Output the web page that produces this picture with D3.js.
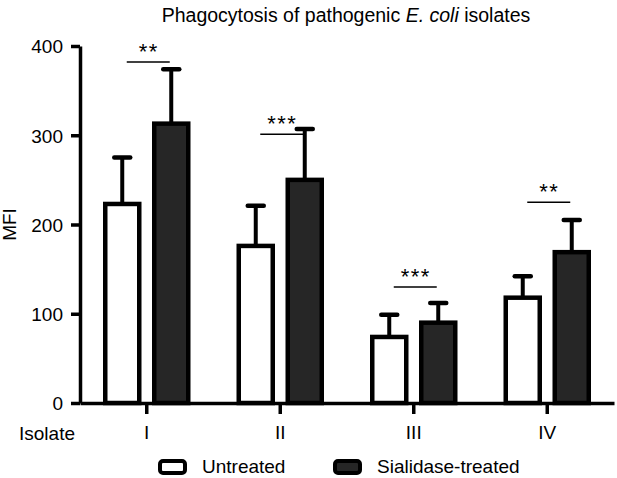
<!DOCTYPE html>
<html>
<head>
<meta charset="utf-8">
<script src="https://cdn.jsdelivr.net/npm/d3@7"></script>
<style>
  body { margin: 0; background: #fff; }
  svg { font-family: "Liberation Sans", Arial, Helvetica, sans-serif; }
</style>
</head>
<body>
<svg id="chart" width="617" height="478"></svg>
<script>
// values
var isolates = ["I", "II", "III", "IV"];
var groups = ["Untreated", "Sialidase-treated"];
var untreated = [223, 176, 74, 118];
var untreatedErr = [52, 45, 25, 24];
var sialidase = [313, 250, 90, 169];
var sialidaseErr = [61, 57, 22, 36];
var sigLabels = ["**", "***", "***", "**"];
var sigLevel = [382, 301, 130, 225]; // height of the comparison bar
var yTicks = [0, 100, 200, 300, 400];

var svg = d3.select("#chart");

var x = d3.scaleBand().domain(isolates).range([80, 614]).padding(0);
var y = d3.scaleLinear().domain([0, 400]).range([403, 46]);

var barW = 34;   // inner width, stroke adds on top
var offset = 24.5; // distance of each bar's centre from the category centre
var fills = ["#ffffff", "#262626"];

var rows = isolates.map(function(d, i){
    return [
        {iso: d, g: 0, v: untreated[i], e: untreatedErr[i]},
        {iso: d, g: 1, v: sialidase[i], e: sialidaseErr[i]}
    ];
});
var bars = d3.merge(rows);

function cx(d){
    return x(d.iso) + x.bandwidth()/2 + (d.g === 0 ? -offset : offset);
}

// error bars (drawn under the bars so the stem starts at the top edge)
svg.append("g").selectAll("line")
    .data(bars)
    .enter()
    .append("line")
        .attr("x1", cx).attr("x2", cx)
        .attr("y1", function(d){ return y(d.v); })
        .attr("y2", function(d){ return y(d.v + d.e); })
        .attr("stroke", "#000")
        .attr("stroke-width", 4);

svg.append("g").selectAll("line")
    .data(bars)
    .enter()
    .append("line")
        .attr("x1", function(d){ return cx(d) - 8; })
        .attr("x2", function(d){ return cx(d) + 8; })
        .attr("y1", function(d){ return y(d.v + d.e); })
        .attr("y2", function(d){ return y(d.v + d.e); })
        .attr("stroke", "#000")
        .attr("stroke-width", 4.5)
        .attr("stroke-linecap", "round");

svg.append("g").selectAll("rect")
    .data(bars)
    .enter()
    .append("rect")
        .attr("x", function(d){ return cx(d) - barW/2; })
        .attr("width", barW)
        .attr("y", function(d){ return y(d.v); })
        .attr("height", function(d){ return y(0) - y(d.v); })
        .attr("fill", function(d){ return fills[d.g]; })
        .attr("stroke", "#000")
        .attr("stroke-width", 4.5);

// axes
var yAxis = svg.append("g")
    .attr("transform", "translate(80,0)")
    .call(d3.axisLeft(y).tickValues(yTicks).tickSize(9).tickSizeOuter(0).tickPadding(8));

var xAxis = svg.append("g")
    .attr("transform", "translate(0,403)")
    .call(d3.axisBottom(x).tickSize(11).tickSizeOuter(0).tickPadding(12));

[yAxis, xAxis].forEach(function(a){
    a.select(".domain").attr("stroke", "#000").attr("stroke-width", 3.5);
    a.selectAll(".tick line").attr("stroke", "#000").attr("stroke-width", 3.5);
    a.selectAll("text")
        .attr("fill", "#000")
        .style("font-family", "'Liberation Sans', Arial, sans-serif")
        .style("font-size", "19px");
});
yAxis.selectAll("text").attr("dy", "0.36em");

svg.append("text")
    .attr("x", 19)
    .attr("y", 440)
    .attr("font-size", 19)
    .text("Isolate");

svg.append("text")
    .attr("transform", "translate(16," + y(200) + ") rotate(-90)")
    .attr("text-anchor", "middle")
    .attr("font-size", 19)
    .text("MFI");

// title
var title = svg.append("text")
    .attr("x", 346)
    .attr("y", 22)
    .attr("text-anchor", "middle")
    .attr("font-size", 19.5);
title.append("tspan").text("Phagocytosis of pathogenic ");
title.append("tspan").attr("font-style", "italic").text("E. coli");
title.append("tspan").text(" isolates");

// significance markers
var sig = svg.append("g").selectAll("g")
    .data(isolates)
    .enter()
    .append("g");

sig.append("line")
    .attr("x1", function(d){ return x(d) + x.bandwidth()/2 - 20; })
    .attr("x2", function(d){ return x(d) + x.bandwidth()/2 + 23; })
    .attr("y1", function(d, i){ return y(sigLevel[i]); })
    .attr("y2", function(d, i){ return y(sigLevel[i]); })
    .attr("stroke", "#000")
    .attr("stroke-width", 1.5);

sig.append("text")
    .attr("x", function(d){ return x(d) + x.bandwidth()/2 + 2; })
    .attr("y", function(d, i){ return y(sigLevel[i]) - 3; })
    .attr("text-anchor", "middle")
    .attr("font-size", 22)
    .attr("letter-spacing", 1.5)
    .text(function(d, i){ return sigLabels[i]; });

// legend
var legend = svg.append("g").selectAll("g")
    .data(groups)
    .enter()
    .append("g")
        .attr("transform", function(d, i){ return "translate(" + [160, 335][i] + ",461)"; });

legend.append("rect")
    .attr("width", 25)
    .attr("height", 12)
    .attr("rx", 3)
    .attr("fill", function(d, i){ return fills[i]; })
    .attr("stroke", "#000")
    .attr("stroke-width", 4);

legend.append("text")
    .attr("x", 42)
    .attr("y", 12)
    .attr("font-size", 19)
    .text(function(d){ return d; });
</script>
</body>
</html>
